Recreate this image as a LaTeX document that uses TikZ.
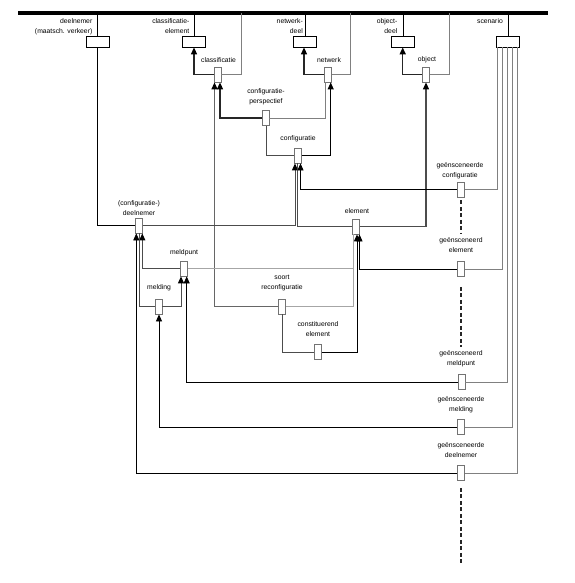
\documentclass[tikz,border=0pt]{standalone}
\usepackage{fontspec}
\setmainfont{Liberation Sans}
\usetikzlibrary{arrows.meta}
\begin{document}
\begin{tikzpicture}[x=1pt,y=-1pt,
  lbl/.style={font=\fontsize{6.8}{10}\selectfont, align=center, inner sep=0pt},
  big/.style={draw=black, line width=0.8pt, minimum width=23pt, minimum height=11pt, inner sep=0pt, fill=white},
  sml/.style={draw=black!55, line width=0.8pt, minimum width=7pt, minimum height=15pt, inner sep=0pt, fill=white},
  blk/.style={draw=black, line width=0.8pt},
  dgr/.style={draw=black!70, line width=1pt},
  gry/.style={draw=black!50, line width=0.8pt},
  lgry/.style={draw=black!35, line width=0.8pt},
  thk/.style={draw=black!85, line width=1.5pt},
  arr/.style={-{Triangle[length=7pt,width=6pt,color=black]}},
  dsh/.style={draw=black!85, line width=1.6pt, dash pattern=on 4pt off 2.5pt},
]
\useasboundingbox (0,0) rectangle (574,583);
% bar
\coordinate (barL) at (18,13);
\coordinate (barR) at (548,13);
\coordinate (b1) at (241,13);
\coordinate (b2) at (350.7,13);
\coordinate (b3) at (449,13);
\coordinate (dend) at (461,563);
% top boxes
\node[big] (dn) at (97.5,41.5) {};
\node[big] (ce) at (194,41.5) {};
\node[big] (nd) at (305,41.5) {};
\node[big] (od) at (403,41.5) {};
\node[big] (sc) at (508,41.5) {};
% small boxes
\node[sml] (cls) at (217.5,74.5) {};
\node[sml] (net) at (328,74.5) {};
\node[sml] (obj) at (426,74.5) {};
\node[sml] (cp) at (265.5,118) {};
\node[sml] (cfg) at (298,155.5) {};
\node[sml] (cdn) at (139,225.5) {};
\node[sml] (elm) at (356,226.5) {};
\node[sml] (mp) at (184,268.5) {};
\node[sml] (mld) at (158.5,306.5) {};
\node[sml] (srt) at (282,306.5) {};
\node[sml] (con) at (318,352) {};
\node[sml] (gcfg) at (461,189.5) {};
\node[sml] (gelm) at (461,269) {};
\node[sml] (gmp) at (461.5,382) {};
\node[sml] (gmld) at (461,427) {};
\node[sml] (gdn) at (461,473) {};
% labels
\node[lbl, align=right, anchor=east] (dnL) at (92.5,26.5) {deelnemer\\(maatsch. verkeer)};
\node[lbl, align=right, anchor=east] (ceL) at (189.5,26.5) {classificatie-\\element};
\node[lbl, align=right, anchor=east] (ndL) at (303,26.5) {netwerk-\\deel};
\node[lbl, align=right, anchor=east] (odL) at (397.5,26.5) {object-\\deel};
\node[lbl, align=right, anchor=east] (scL) at (503,21) {scenario};
\node[lbl] (clsL) at (218.5,60) {classificatie};
\node[lbl] (netL) at (329,60) {netwerk};
\node[lbl] (objL) at (427,60) {object};
\node[lbl] (cpL) at (266,96.5) {configuratie-\\perspectief};
\node[lbl] (cfgL) at (298,139) {configuratie};
\node[lbl] (cdnL) at (139,208) {(configuratie-)\\deelnemer};
\node[lbl] (elmL) at (357,211) {element};
\node[lbl] (mpL) at (184,253) {meldpunt};
\node[lbl] (mldL) at (159,288) {melding};
\node[lbl] (srtL) at (282,283.5) {soort\\reconfiguratie};
\node[lbl] (conL) at (318,329.5) {constituerend\\element};
\node[lbl] (gcfgL) at (460,170.5) {geënsceneerde\\configuratie};
\node[lbl] (gelmL) at (461,245.5) {geënsceneerd\\element};
\node[lbl] (gmpL) at (461,359) {geënsceneerd\\meldpunt};
\node[lbl] (gmldL) at (461,404.5) {geënsceneerde\\melding};
\node[lbl] (gdnL) at (461,450.5) {geënsceneerde\\deelnemer};
% bar and top links
\draw[line width=4pt] (barL) -- (barR);
\foreach \n in {dn,ce,nd,od,sc} \draw[blk] (\n.north) -- (\n.north |- barL);
\draw[gry] (cls.east) -| (b1);
\draw[gry] (net.east) -| (b2);
\draw[gry] (obj.east) -| (b3);
\draw[blk] (dn.south) |- (cdn.west);
% upper links
\draw[thk,arr] (cls.west) -| (ce.south);
\draw[thk,arr] (net.west) -| ([xshift=-1pt]nd.south);
\draw[thk,arr] (obj.west) -| ([xshift=-0.3pt]od.south);
\draw[thk,arr] (cp.west) -| ([xshift=2.5pt]cls.south);
\draw[thk,draw=black!60,arr] (srt.west) -| ([xshift=-3pt]cls.south);
\draw[gry] (cp.east) -| ([xshift=-2.3pt]net.south);
\draw[blk,line width=1pt,arr] (cfg.east) -| ([xshift=2.7pt]net.south);
\draw[dgr] ([xshift=0.5pt]cp.south) |- (cfg.west);
\draw[dgr,line width=1.2pt,arr] (elm.east) -| (obj.south);
\draw[dgr,arr] (cdn.east) -| ([xshift=-3pt]cfg.south);
\draw[dgr] (elm.west) -| ([xshift=-0.5pt]cfg.south);
\draw[blk,arr] (gcfg.west) -| ([xshift=2.5pt]cfg.south);
% element links
\draw[blk,arr] (gelm.west) -| ([xshift=3.5pt]elm.south);
\draw[blk,line width=1pt,arr] (con.east) -| ([xshift=1pt]elm.south);
\draw[lgry] (mp.east) -| ([xshift=-2.5pt]elm.south);
\draw[lgry] (srt.east) -| ([xshift=-2.5pt]elm.south);
\draw[dgr] (srt.south) |- (con.west);
% deelnemer / meldpunt / melding
\draw[dgr,arr] (mp.west) -| ([xshift=3.3pt]cdn.south);
\draw[dgr] (mld.west) -| ([xshift=0.3pt]cdn.south);
\draw[blk,arr] (gdn.west) -| ([xshift=-2.7pt]cdn.south);
\draw[dgr,arr] (mld.east) -| ([xshift=-3pt]mp.south);
\draw[blk,arr] (gmp.west) -| ([xshift=2.7pt]mp.south);
\draw[blk,arr] (gmld.west) -| ([xshift=0.5pt]mld.south);
% scenario
\draw[gry] (gcfg.east) -| ([xshift=-11pt]sc.south);
\draw[gry] (gelm.east) -| ([xshift=-6pt]sc.south);
\draw[gry] (gmp.east) -| ([xshift=-0.3pt]sc.south);
\draw[gry] (gmld.east) -| ([xshift=4.3pt]sc.south);
\draw[gry] (gdn.east) -| ([xshift=9.7pt]sc.south);
% dashed
\draw[dsh] ([yshift=-3pt]gcfg.south) -- ([yshift=4pt]gcfg.south |- gelmL.north);
\draw[dsh] ([yshift=-10pt]gelm.south) -- ([yshift=4pt]gelm.south |- gmpL.north);
\draw[dsh] ([yshift=-7pt]gdn.south) -- (dend);
\end{tikzpicture}
\end{document}
